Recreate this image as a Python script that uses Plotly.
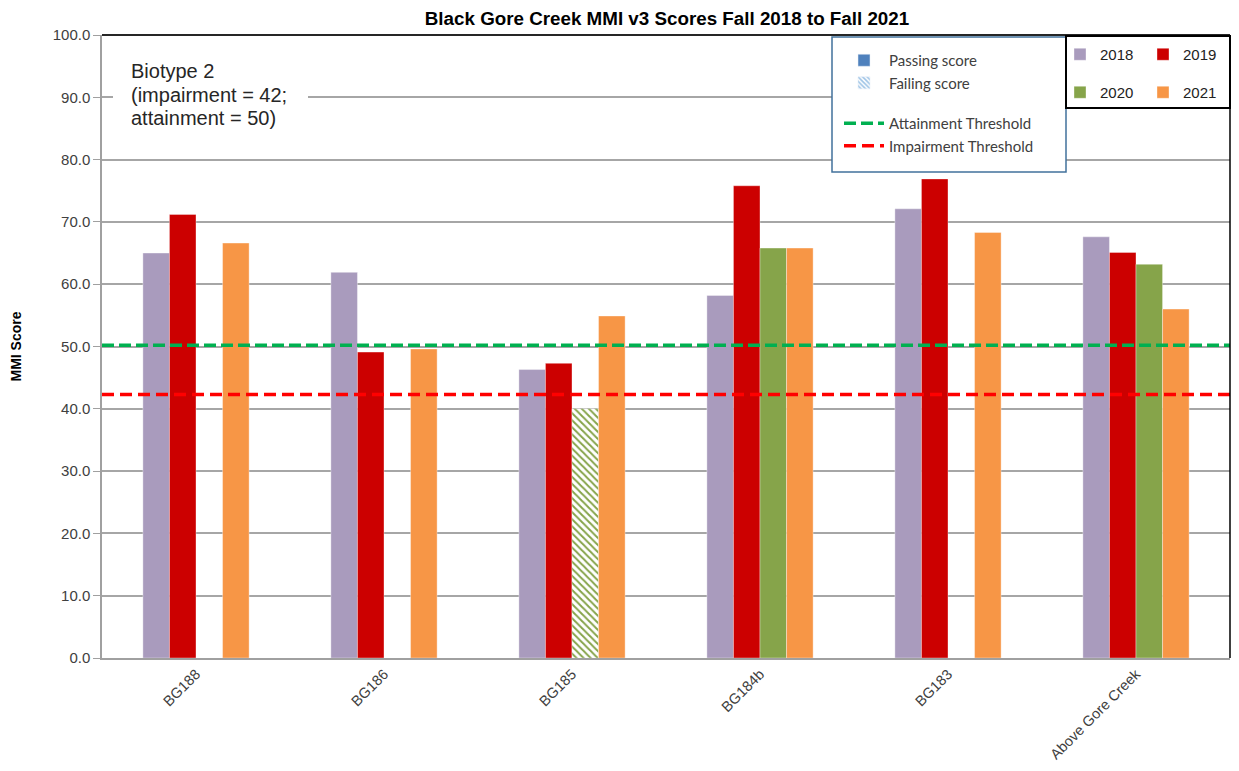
import plotly.graph_objects as go

# ---- data ----
categories = ["BG188", "BG186", "BG185", "BG184b", "BG183", "Above Gore Creek"]
years = ["2018", "2019", "2020", "2021"]
scores_2018 = [65.0, 61.9, 46.3, 58.2, 72.1, 67.6]
scores_2019 = [71.2, 49.1, 47.3, 75.8, 76.9, 65.1]
scores_2020 = [None, None, 40.0, 65.8, None, 63.2]
scores_2021 = [66.6, 49.6, 54.9, 65.8, 68.3, 56.0]
failing_2020 = [False, False, True, False, False, False]
attainment_threshold = 50.2
impairment_threshold = 42.3
y_tick_values = [0, 10, 20, 30, 40, 50, 60, 70, 80, 90, 100]
note_lines = ["Biotype 2", "(impairment = 42;", "attainment = 50)"]

year_colors = {"2018": "#a99bbd", "2019": "#cc0000", "2020": "#86a44a", "2021": "#f79646"}
series = {"2018": scores_2018, "2019": scores_2019, "2020": scores_2020, "2021": scores_2021}

x_pos = list(range(len(categories)))

fig = go.Figure()

for yr in years:
    marker = dict(color=year_colors[yr], line=dict(width=0.6, color="rgba(255,255,255,0.6)"))
    if yr == "2020":
        marker["pattern"] = dict(
            shape=["\\" if f else "" for f in failing_2020],
            bgcolor="white", fillmode="replace", size=5, solidity=0.4,
        )
    fig.add_trace(go.Bar(
        x=x_pos, y=series[yr], name=yr, marker=marker,
        legend="legend2" if yr in ("2018", "2019") else "legend3",
    ))

# legend-only dummy bars on a hidden overlaying axis (so they don't take bar slots)
fig.add_trace(go.Bar(
    x=[None], y=[None], name="Passing score", xaxis="x2",
    marker=dict(color="#4f81bd"), legend="legend", legendgroup="g1",
))
fig.add_trace(go.Bar(
    x=[None], y=[None], name="Failing score", xaxis="x2",
    marker=dict(color="#9dc3e6", pattern=dict(shape="\\", bgcolor="white",
                                               fillmode="replace", size=4, solidity=0.5)),
    legend="legend", legendgroup="g1",
))
fig.add_trace(go.Scatter(
    x=[-0.5, len(categories) - 0.5], y=[attainment_threshold] * 2, mode="lines",
    name="Attainment Threshold", line=dict(color="#00b050", width=3.5, dash="12px,5px"),
    legend="legend", legendgroup="g2",
))
fig.add_trace(go.Scatter(
    x=[-0.5, len(categories) - 0.5], y=[impairment_threshold] * 2, mode="lines",
    name="Impairment Threshold", line=dict(color="#ff0000", width=3.5, dash="12px,6px"),
    legend="legend", legendgroup="g2",
))

# page has an 8px body margin on every side; figure coords = page coords - 8
OFF = 8
W, H = 1239 - 2 * OFF, 771 - 2 * OFF
PL, PR, PT, PB = 102, 1230, 35, 658  # plot area in page pixels
L, T = PL - OFF, PT - OFF
R, B = W - (PR - OFF), H - (PB - OFF)
pw, ph = PR - PL, PB - PT


def px_x(x):
    return (x - PL) / pw


def px_y(y):
    return (PB - y) / ph


fig.update_layout(
    width=W, height=H,
    margin=dict(l=L, r=R, t=T, b=B),
    paper_bgcolor="white", plot_bgcolor="white",
    barmode="group", bargap=0.435, bargroupgap=0,
    font=dict(family="Liberation Sans, Arial, sans-serif", color="#404040"),
    title=dict(
        text="<b>Black Gore Creek MMI v3 Scores Fall 2018 to Fall 2021</b>",
        x=px_x(667), xanchor="center", xref="paper",
        y=1 - (18.5 - OFF) / H, yref="container", yanchor="middle",
        font=dict(family="Liberation Sans, Arial, sans-serif", size=18.8, color="#000000"),
    ),
    xaxis=dict(
        range=[-0.5, len(categories) - 0.5],
        tickmode="array", tickvals=x_pos, ticktext=categories,
        tickangle=-45, tickfont=dict(size=14.5, color="#404040"),
        showline=True, linecolor="#a0a0a0", linewidth=2,
        showgrid=False, ticks="", zeroline=False, fixedrange=True,
    ),
    xaxis2=dict(overlaying="x", visible=False, range=[0, 1]),
    yaxis=dict(
        range=[0, 100], tickmode="array", tickvals=y_tick_values,
        tickformat=".1f", tickfont=dict(size=15, color="#404040"),
        showgrid=True, gridcolor="#a6a6a6", gridwidth=1.5,
        showline=True, linecolor="#a0a0a0", linewidth=1.5,
        ticks="outside", ticklen=7, tickcolor="#a0a0a0",
        zeroline=False,
        title=dict(text="<b>MMI Score</b>", font=dict(size=14, color="#000000"), standoff=29),
    ),
    legend=dict(
        x=px_x(839), y=px_y(44), xanchor="left", yanchor="top",
        bgcolor="rgba(255,255,255,0)", borderwidth=0,
        traceorder="grouped", tracegroupgap=18,
        font=dict(family="Lato, sans-serif", size=15, color="#404040"),
        itemwidth=40,
    ),
    legend2=dict(
        x=px_x(1060), y=px_y(38), xanchor="left", yanchor="top",
        orientation="h", bgcolor="rgba(255,255,255,0)", borderwidth=0,
        font=dict(size=15, color="#222222"), itemwidth=30, entrywidth=38,
    ),
    legend3=dict(
        x=px_x(1060), y=px_y(76), xanchor="left", yanchor="top",
        orientation="h", bgcolor="rgba(255,255,255,0)", borderwidth=0,
        font=dict(size=15, color="#222222"), itemwidth=30, entrywidth=38,
    ),
    showlegend=True,
)

shapes = [
    # top and right plot border
    dict(type="line", xref="paper", yref="paper", x0=0, x1=1, y0=1, y1=1,
         line=dict(color="#262626", width=2)),
    dict(type="line", xref="paper", yref="paper", x0=1, x1=1, y0=0, y1=1,
         line=dict(color="#000000", width=1.5)),
    # legend boxes
    dict(type="rect", xref="paper", yref="paper",
         x0=px_x(832), x1=px_x(1066), y0=px_y(172), y1=px_y(37),
         fillcolor="white", line=dict(color="#41719c", width=1.5), layer="above"),
    dict(type="rect", xref="paper", yref="paper",
         x0=px_x(1066), x1=px_x(1230), y0=px_y(108), y1=px_y(36),
         fillcolor="white", line=dict(color="#000000", width=2), layer="above"),
    # white background behind the biotype note
    dict(type="rect", xref="paper", yref="paper",
         x0=px_x(113), x1=px_x(308), y0=px_y(132), y1=px_y(52),
         fillcolor="white", line=dict(width=0), layer="above"),
]
fig.update_layout(shapes=shapes)

for line_text, yc in zip(note_lines, [71, 95, 118]):
    fig.add_annotation(
        xref="paper", yref="paper", x=px_x(129), y=px_y(yc),
        xanchor="left", yanchor="middle", align="left", showarrow=False,
        text=line_text,
        font=dict(family="Liberation Sans, Arial, sans-serif", size=20, color="#262626"),
    )

fig.write_html("out.html")
